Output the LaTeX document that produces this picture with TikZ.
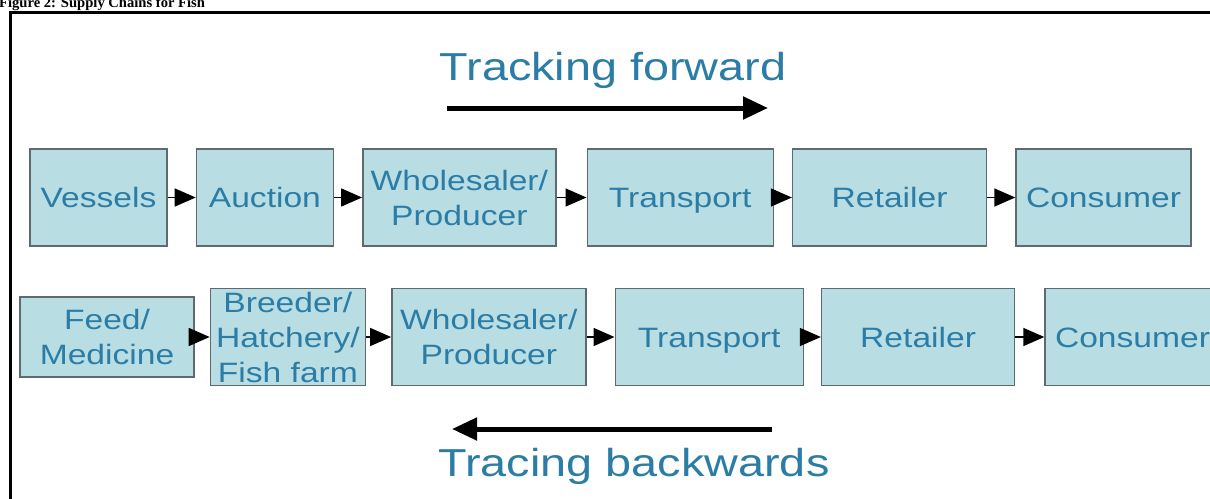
\documentclass[tikz,border=0pt]{standalone}
\usepackage{fontspec}
\usepackage{tikz}
\usetikzlibrary{arrows.meta,positioning}
\newfontfamily\chainfont{Liberation Sans}[FakeStretch=1.2]
\newfontfamily\capfont{Liberation Serif}
\definecolor{stagefill}{HTML}{B8DDE3}
\definecolor{stageline}{HTML}{5E6A6D}
\definecolor{stagetext}{HTML}{2B7DA6}

\begin{document}
\begin{tikzpicture}[x=1pt,y=-1pt,
  stage/.style={draw=stageline,line width=1.4pt,fill=stagefill,text=stagetext,align=center,
                minimum height=97pt,inner sep=0pt,font=\chainfont\fontsize{28}{35}\selectfont},
  single/.style={stage,text height=20pt,text depth=0pt},
  flow/.style={-{Triangle[length=21pt,width=18pt]},line width=1.5pt},
  trend/.style={-{Triangle[length=25pt,width=22pt]},line width=5pt},
  head/.style={text=stagetext,inner sep=0pt,anchor=base,font=\chainfont\fontsize{39}{47}\selectfont}]
  \useasboundingbox (0,0) rectangle (1210,498);
  \node[anchor=base west,inner sep=0pt,font=\capfont\bfseries\fontsize{14.6}{17}\selectfont] (title) at (-1,7) {Figure 2: Supply Chains for Fish};
  \draw[line width=2.2pt] (10.5,12.5) rectangle (1240,530);
  % wild catch chain
  \node[single,minimum width=137pt] (vessels) at (98.5,197.5) {Vessels};
  \node[single,minimum width=137pt,right=28pt of vessels] (auction) {Auction};
  \node[stage,minimum width=193pt,right=28pt of auction] (whole) {Wholesaler/\\Producer};
  \node[single,minimum width=186pt,right=30pt of whole] (transport) {Transport};
  \node[single,minimum width=194pt,right=18pt of transport] (retail) {Retailer};
  \node[single,minimum width=175pt,right=28pt of retail] (consumer) {Consumer};
  % farmed fish chain
  \node[stage,minimum width=174pt,minimum height=80pt] (feed) at (107,337) {Feed/\\Medicine};
  \node[stage,minimum width=155pt,right=15pt of feed] (breeder) {Breeder/\\Hatchery/\\Fish farm};
  \node[stage,minimum width=194pt,right=25pt of breeder] (whole2) {Wholesaler/\\Producer};
  \node[single,minimum width=188pt,right=28pt of whole2] (transport2) {Transport};
  \node[single,minimum width=193pt,right=17pt of transport2] (retail2) {Retailer};
  \node[single,minimum width=175pt,right=29pt of retail2] (consumer2) {Consumer};
  \foreach \a/\b in {vessels/auction,auction/whole,whole/transport,transport/retail,retail/consumer,
                     feed/breeder,breeder/whole2,whole2/transport2,transport2/retail2,retail2/consumer2}
    \draw[flow] (\a) -- (\b);
  % direction labels
  \node[head] (forward) at (613,80) {Tracking forward};
  \coordinate (fwd-tail) at (447,108);
  \coordinate (fwd-head) at (768,108);
  \draw[trend] (fwd-tail) -- (fwd-head);
  \node[head] (backward) at (634,476) {Tracing backwards};
  \coordinate (back-tail) at (772,429);
  \coordinate (back-head) at (452,429);
  \draw[trend] (back-tail) -- (back-head);
\end{tikzpicture}
\end{document}
